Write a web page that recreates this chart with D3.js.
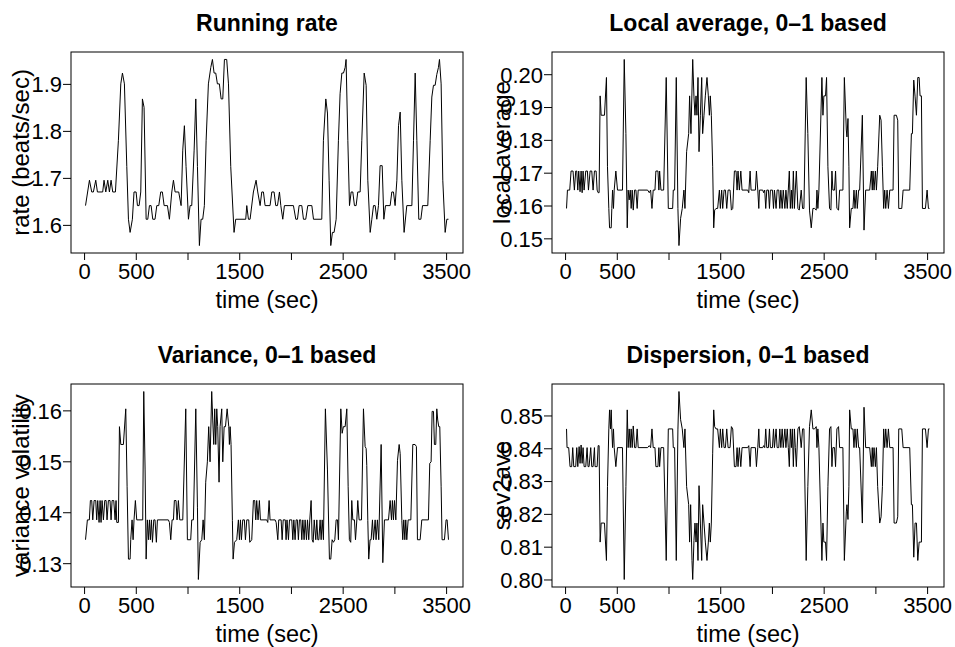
<!DOCTYPE html>
<html>
<head>
<meta charset="utf-8">
<script src="https://cdn.jsdelivr.net/npm/d3@7"></script>
<style>
  body { margin: 0; background: #fff; }
  text { font-family: "Liberation Sans", Arial, Helvetica, sans-serif; fill: #000; }
</style>
</head>
<body>
<div class="canva"></div>
<script>
// [time (sec), value]
const runningRate = [[14,1.641],[52,1.695],[74,1.670],[90,1.670],[113,1.695],[129,1.670],[180,1.670],[193,1.695],[210,1.670],[229,1.695],[245,1.670],[261,1.695],[277,1.670],[303,1.670],[332,1.780],[355,1.900],[371,1.923],[390,1.900],[413,1.724],[429,1.612],[445,1.584],[467,1.612],[483,1.670],[503,1.670],[516,1.641],[532,1.641],[548,1.670],[564,1.868],[580,1.850],[600,1.612],[616,1.612],[632,1.641],[648,1.641],[664,1.612],[686,1.612],[703,1.641],[722,1.641],[741,1.670],[757,1.670],[774,1.641],[806,1.641],[825,1.612],[848,1.670],[864,1.695],[880,1.670],[915,1.670],[938,1.641],[954,1.759],[970,1.811],[986,1.724],[1009,1.612],[1025,1.641],[1041,1.641],[1064,1.759],[1080,1.868],[1096,1.724],[1115,1.556],[1131,1.612],[1147,1.612],[1163,1.641],[1180,1.780],[1202,1.900],[1225,1.935],[1241,1.952],[1257,1.923],[1273,1.923],[1289,1.900],[1308,1.900],[1325,1.868],[1341,1.868],[1357,1.952],[1379,1.952],[1396,1.900],[1418,1.724],[1450,1.584],[1466,1.612],[1563,1.612],[1573,1.641],[1589,1.612],[1605,1.612],[1637,1.670],[1663,1.695],[1679,1.670],[1702,1.641],[1718,1.670],[1734,1.670],[1750,1.641],[1798,1.641],[1815,1.670],[1837,1.670],[1853,1.641],[1870,1.641],[1889,1.670],[1902,1.641],[1921,1.612],[1937,1.641],[2024,1.641],[2047,1.612],[2063,1.612],[2079,1.641],[2105,1.641],[2121,1.612],[2143,1.612],[2163,1.641],[2202,1.641],[2218,1.612],[2298,1.612],[2314,1.780],[2337,1.868],[2353,1.838],[2369,1.695],[2385,1.556],[2401,1.584],[2417,1.584],[2437,1.612],[2459,1.780],[2475,1.879],[2492,1.923],[2508,1.923],[2524,1.935],[2533,1.952],[2550,1.780],[2566,1.641],[2582,1.670],[2598,1.670],[2614,1.641],[2630,1.641],[2646,1.670],[2669,1.670],[2685,1.780],[2708,1.923],[2727,1.897],[2743,1.695],[2766,1.584],[2782,1.612],[2798,1.641],[2814,1.641],[2830,1.612],[2846,1.641],[2862,1.726],[2882,1.726],[2898,1.612],[2914,1.641],[2959,1.641],[2975,1.670],[2991,1.670],[3007,1.641],[3024,1.695],[3040,1.811],[3056,1.840],[3072,1.695],[3094,1.584],[3120,1.641],[3169,1.641],[3185,1.780],[3201,1.923],[3217,1.780],[3236,1.612],[3256,1.612],[3272,1.641],[3323,1.641],[3346,1.780],[3362,1.872],[3378,1.897],[3394,1.897],[3410,1.920],[3426,1.935],[3436,1.952],[3452,1.900],[3468,1.695],[3491,1.584],[3507,1.612],[3523,1.612]];

const localAverage = [[14,0.1591],[23,0.1647],[45,0.1647],[58,0.1705],[77,0.1705],[90,0.1647],[103,0.1705],[113,0.1705],[123,0.1647],[132,0.1705],[145,0.1642],[155,0.1705],[165,0.1639],[174,0.1705],[184,0.1647],[200,0.1705],[216,0.1705],[226,0.1647],[242,0.1705],[258,0.1705],[271,0.1647],[284,0.1705],[300,0.1705],[310,0.1647],[320,0.1639],[329,0.1639],[339,0.1934],[349,0.1875],[381,0.1875],[400,0.1990],[410,0.1718],[423,0.1591],[430,0.1532],[446,0.1532],[452,0.1591],[459,0.1647],[468,0.1591],[475,0.1647],[491,0.1705],[507,0.1647],[555,0.1647],[572,0.2045],[588,0.1819],[601,0.1532],[610,0.1647],[620,0.1617],[630,0.1647],[639,0.1591],[649,0.1647],[659,0.1586],[672,0.1647],[685,0.1647],[697,0.1591],[707,0.1647],[798,0.1647],[814,0.1639],[827,0.1647],[840,0.1591],[852,0.1647],[869,0.1647],[878,0.1705],[898,0.1705],[907,0.1647],[914,0.1705],[927,0.1647],[953,0.1647],[978,0.1990],[998,0.1591],[1040,0.1591],[1046,0.1647],[1059,0.1647],[1075,0.1990],[1091,0.1591],[1101,0.1478],[1117,0.1561],[1133,0.1591],[1149,0.1647],[1159,0.1591],[1175,0.1764],[1195,0.1819],[1204,0.1934],[1217,0.1819],[1234,0.2045],[1246,0.1931],[1256,0.1875],[1266,0.1934],[1275,0.1875],[1285,0.1990],[1295,0.1764],[1308,0.1875],[1321,0.1990],[1330,0.1819],[1343,0.1875],[1356,0.1934],[1372,0.1990],[1385,0.1934],[1395,0.1875],[1404,0.1934],[1414,0.1875],[1427,0.1718],[1437,0.1532],[1446,0.1586],[1459,0.1591],[1475,0.1591],[1492,0.1647],[1501,0.1591],[1514,0.1647],[1524,0.1591],[1537,0.1647],[1550,0.1647],[1563,0.1591],[1576,0.1647],[1595,0.1647],[1608,0.1586],[1621,0.1591],[1637,0.1705],[1653,0.1705],[1663,0.1647],[1672,0.1705],[1685,0.1647],[1699,0.1705],[1711,0.1647],[1766,0.1647],[1776,0.1639],[1789,0.1705],[1798,0.1647],[1840,0.1647],[1850,0.1705],[1863,0.1647],[1873,0.1591],[1879,0.1647],[1911,0.1647],[1920,0.1639],[1930,0.1647],[1940,0.1591],[1950,0.1647],[1966,0.1647],[1976,0.1591],[1985,0.1647],[2005,0.1647],[2015,0.1591],[2024,0.1647],[2040,0.1591],[2050,0.1647],[2066,0.1647],[2076,0.1591],[2086,0.1647],[2099,0.1591],[2109,0.1647],[2125,0.1591],[2135,0.1647],[2148,0.1591],[2158,0.1647],[2168,0.1705],[2178,0.1591],[2188,0.1647],[2197,0.1591],[2207,0.1705],[2217,0.1591],[2226,0.1647],[2236,0.1705],[2251,0.1591],[2264,0.1586],[2283,0.1647],[2296,0.1591],[2309,0.1591],[2331,0.1990],[2347,0.1819],[2363,0.1586],[2380,0.1532],[2396,0.1591],[2412,0.1591],[2428,0.1586],[2435,0.1647],[2444,0.1591],[2454,0.1647],[2483,0.1990],[2493,0.1875],[2502,0.1934],[2518,0.1934],[2528,0.1990],[2541,0.1718],[2557,0.1591],[2570,0.1586],[2580,0.1705],[2589,0.1647],[2605,0.1647],[2615,0.1705],[2628,0.1591],[2644,0.1586],[2654,0.1647],[2686,0.1647],[2700,0.1990],[2719,0.1830],[2725,0.1809],[2735,0.1865],[2744,0.1718],[2751,0.1532],[2767,0.1591],[2783,0.1591],[2793,0.1647],[2803,0.1591],[2816,0.1647],[2825,0.1591],[2838,0.1647],[2848,0.1647],[2874,0.1875],[2890,0.1525],[2906,0.1647],[2945,0.1647],[2961,0.1705],[2970,0.1647],[2977,0.1705],[2987,0.1647],[3000,0.1705],[3010,0.1647],[3022,0.1718],[3042,0.1875],[3055,0.1860],[3068,0.1718],[3080,0.1591],[3090,0.1647],[3100,0.1591],[3113,0.1647],[3126,0.1591],[3139,0.1647],[3171,0.1647],[3181,0.1875],[3203,0.1875],[3216,0.1860],[3226,0.1591],[3255,0.1591],[3268,0.1647],[3332,0.1647],[3348,0.1819],[3358,0.1819],[3371,0.1982],[3384,0.1931],[3397,0.1875],[3410,0.1990],[3423,0.1990],[3432,0.1934],[3445,0.1934],[3455,0.1591],[3484,0.1591],[3500,0.1647],[3513,0.1591],[3523,0.1591]];

const varianceVol = [[14,0.1346],[32,0.1385],[51,0.1385],[61,0.1423],[74,0.1423],[84,0.1385],[97,0.1423],[113,0.1423],[122,0.1385],[132,0.1423],[145,0.1380],[155,0.1423],[164,0.1380],[174,0.1423],[187,0.1385],[200,0.1423],[213,0.1423],[222,0.1385],[235,0.1423],[251,0.1423],[261,0.1385],[271,0.1423],[287,0.1423],[300,0.1385],[309,0.1423],[316,0.1380],[332,0.1380],[342,0.1568],[355,0.1533],[380,0.1533],[403,0.1603],[416,0.1450],[429,0.1308],[445,0.1308],[451,0.1346],[464,0.1385],[474,0.1346],[483,0.1385],[496,0.1423],[509,0.1385],[567,0.1385],[577,0.1637],[590,0.1483],[600,0.1308],[612,0.1385],[622,0.1346],[632,0.1385],[641,0.1346],[651,0.1385],[661,0.1341],[674,0.1385],[686,0.1385],[699,0.1341],[709,0.1385],[815,0.1385],[825,0.1380],[838,0.1346],[851,0.1385],[864,0.1385],[873,0.1423],[889,0.1423],[899,0.1385],[912,0.1423],[925,0.1385],[954,0.1385],[983,0.1603],[999,0.1346],[1031,0.1346],[1041,0.1385],[1057,0.1385],[1080,0.1603],[1096,0.1410],[1105,0.1268],[1122,0.1341],[1138,0.1346],[1151,0.1385],[1163,0.1346],[1176,0.1459],[1192,0.1499],[1205,0.1568],[1218,0.1499],[1234,0.1637],[1244,0.1581],[1254,0.1533],[1263,0.1603],[1273,0.1533],[1283,0.1603],[1292,0.1568],[1305,0.1459],[1315,0.1568],[1331,0.1603],[1341,0.1499],[1354,0.1568],[1367,0.1568],[1383,0.1603],[1399,0.1568],[1405,0.1533],[1412,0.1568],[1421,0.1533],[1434,0.1384],[1441,0.1308],[1454,0.1341],[1476,0.1346],[1492,0.1385],[1502,0.1346],[1512,0.1385],[1521,0.1346],[1534,0.1385],[1550,0.1385],[1560,0.1346],[1573,0.1385],[1592,0.1385],[1602,0.1341],[1621,0.1346],[1637,0.1423],[1650,0.1423],[1660,0.1385],[1669,0.1423],[1682,0.1385],[1695,0.1423],[1705,0.1385],[1766,0.1385],[1776,0.1380],[1789,0.1423],[1798,0.1385],[1847,0.1385],[1857,0.1380],[1873,0.1346],[1882,0.1385],[1905,0.1385],[1915,0.1346],[1925,0.1385],[1945,0.1385],[1953,0.1346],[1962,0.1385],[1976,0.1346],[1986,0.1385],[2008,0.1385],[2018,0.1346],[2028,0.1385],[2040,0.1346],[2050,0.1385],[2062,0.1385],[2072,0.1346],[2082,0.1385],[2095,0.1385],[2105,0.1346],[2115,0.1385],[2127,0.1346],[2137,0.1385],[2150,0.1346],[2160,0.1385],[2172,0.1346],[2182,0.1385],[2195,0.1423],[2205,0.1346],[2215,0.1341],[2225,0.1385],[2240,0.1346],[2250,0.1385],[2260,0.1346],[2270,0.1346],[2282,0.1385],[2292,0.1346],[2302,0.1385],[2314,0.1346],[2333,0.1603],[2353,0.1483],[2372,0.1308],[2385,0.1308],[2398,0.1346],[2411,0.1341],[2424,0.1346],[2437,0.1385],[2450,0.1385],[2459,0.1346],[2482,0.1603],[2495,0.1555],[2507,0.1568],[2524,0.1568],[2540,0.1603],[2553,0.1450],[2565,0.1346],[2578,0.1341],[2588,0.1423],[2598,0.1385],[2614,0.1385],[2624,0.1346],[2637,0.1385],[2646,0.1423],[2659,0.1385],[2682,0.1385],[2701,0.1603],[2717,0.1529],[2727,0.1525],[2733,0.1492],[2743,0.1384],[2752,0.1308],[2765,0.1346],[2775,0.1346],[2788,0.1385],[2798,0.1346],[2814,0.1385],[2823,0.1346],[2836,0.1385],[2849,0.1346],[2872,0.1533],[2888,0.1301],[2904,0.1385],[2943,0.1385],[2959,0.1423],[2972,0.1385],[2981,0.1423],[2991,0.1385],[3001,0.1423],[3014,0.1385],[3030,0.1502],[3046,0.1533],[3056,0.1515],[3072,0.1384],[3081,0.1346],[3091,0.1385],[3101,0.1346],[3110,0.1385],[3120,0.1346],[3133,0.1385],[3159,0.1385],[3178,0.1533],[3200,0.1533],[3213,0.1529],[3223,0.1346],[3249,0.1346],[3265,0.1385],[3329,0.1385],[3342,0.1496],[3355,0.1499],[3365,0.1598],[3378,0.1598],[3387,0.1533],[3400,0.1533],[3410,0.1603],[3419,0.1581],[3429,0.1568],[3439,0.1568],[3452,0.1450],[3461,0.1346],[3484,0.1346],[3500,0.1385],[3510,0.1385],[3523,0.1346]];

const dispersion = [[14,0.8459],[19,0.8402],[35,0.8402],[48,0.8344],[64,0.8344],[74,0.8402],[84,0.8344],[103,0.8344],[113,0.8402],[123,0.8344],[136,0.8405],[145,0.8354],[155,0.8410],[165,0.8354],[174,0.8402],[184,0.8344],[200,0.8344],[213,0.8402],[222,0.8344],[232,0.8344],[248,0.8402],[258,0.8344],[271,0.8344],[284,0.8402],[290,0.8344],[310,0.8344],[320,0.8408],[329,0.8408],[339,0.8114],[349,0.8172],[381,0.8172],[400,0.8058],[410,0.8283],[423,0.8459],[430,0.8517],[439,0.8459],[446,0.8517],[452,0.8459],[459,0.8402],[468,0.8459],[475,0.8402],[491,0.8344],[507,0.8402],[555,0.8402],[572,0.8000],[588,0.8283],[601,0.8517],[610,0.8402],[620,0.8459],[630,0.8402],[639,0.8459],[649,0.8402],[659,0.8468],[672,0.8402],[685,0.8402],[697,0.8459],[707,0.8402],[798,0.8402],[814,0.8408],[827,0.8402],[840,0.8459],[852,0.8402],[869,0.8402],[878,0.8344],[898,0.8344],[907,0.8402],[914,0.8344],[927,0.8402],[953,0.8402],[978,0.8058],[998,0.8459],[1040,0.8459],[1046,0.8402],[1059,0.8402],[1075,0.8058],[1091,0.8456],[1101,0.8573],[1117,0.8487],[1133,0.8459],[1149,0.8402],[1159,0.8459],[1175,0.8283],[1195,0.8228],[1204,0.8114],[1214,0.8228],[1227,0.8058],[1234,0.8000],[1246,0.8119],[1256,0.8172],[1266,0.8114],[1275,0.8172],[1285,0.8058],[1295,0.8286],[1308,0.8172],[1321,0.8058],[1330,0.8228],[1343,0.8172],[1356,0.8114],[1372,0.8058],[1385,0.8114],[1395,0.8172],[1404,0.8114],[1414,0.8172],[1427,0.8385],[1437,0.8517],[1446,0.8466],[1459,0.8459],[1475,0.8459],[1492,0.8402],[1501,0.8459],[1514,0.8402],[1524,0.8459],[1537,0.8402],[1550,0.8402],[1563,0.8459],[1576,0.8402],[1595,0.8402],[1608,0.8466],[1621,0.8459],[1637,0.8344],[1653,0.8344],[1663,0.8402],[1672,0.8344],[1685,0.8402],[1699,0.8344],[1711,0.8402],[1766,0.8402],[1776,0.8408],[1789,0.8344],[1798,0.8402],[1840,0.8402],[1850,0.8344],[1863,0.8402],[1873,0.8459],[1879,0.8402],[1911,0.8402],[1920,0.8408],[1930,0.8402],[1940,0.8459],[1950,0.8402],[1966,0.8402],[1976,0.8459],[1985,0.8402],[2005,0.8402],[2015,0.8459],[2024,0.8402],[2040,0.8459],[2050,0.8402],[2066,0.8402],[2076,0.8459],[2086,0.8402],[2099,0.8459],[2109,0.8402],[2125,0.8459],[2135,0.8402],[2148,0.8459],[2158,0.8402],[2168,0.8344],[2178,0.8459],[2188,0.8402],[2197,0.8459],[2207,0.8344],[2217,0.8459],[2226,0.8402],[2236,0.8344],[2251,0.8459],[2264,0.8466],[2283,0.8402],[2296,0.8459],[2309,0.8459],[2331,0.8058],[2347,0.8283],[2363,0.8466],[2380,0.8517],[2396,0.8459],[2412,0.8459],[2428,0.8466],[2435,0.8402],[2444,0.8459],[2454,0.8402],[2483,0.8058],[2493,0.8172],[2502,0.8114],[2518,0.8114],[2528,0.8058],[2541,0.8283],[2557,0.8459],[2570,0.8466],[2580,0.8344],[2589,0.8402],[2605,0.8402],[2615,0.8344],[2628,0.8459],[2644,0.8466],[2654,0.8402],[2686,0.8402],[2700,0.8058],[2719,0.8206],[2725,0.8228],[2735,0.8183],[2744,0.8283],[2751,0.8517],[2767,0.8459],[2783,0.8459],[2793,0.8402],[2803,0.8459],[2816,0.8402],[2825,0.8459],[2838,0.8402],[2848,0.8402],[2874,0.8172],[2890,0.8525],[2906,0.8402],[2945,0.8402],[2961,0.8344],[2970,0.8402],[2977,0.8344],[2987,0.8402],[3000,0.8344],[3010,0.8402],[3022,0.8283],[3042,0.8172],[3055,0.8191],[3068,0.8283],[3080,0.8459],[3090,0.8402],[3100,0.8459],[3113,0.8402],[3126,0.8459],[3139,0.8402],[3171,0.8402],[3181,0.8172],[3203,0.8172],[3216,0.8191],[3226,0.8459],[3255,0.8459],[3268,0.8402],[3332,0.8402],[3348,0.8228],[3358,0.8228],[3371,0.8068],[3384,0.8172],[3397,0.8172],[3410,0.8058],[3423,0.8114],[3432,0.8114],[3445,0.8114],[3455,0.8459],[3484,0.8459],[3500,0.8402],[3513,0.8459],[3523,0.8459]];

// tick values and labels
const timeTicks = [0, 500, 1000, 1500, 2000, 2500, 3000, 3500];
const timeLabels = [0, 500, 1500, 2500, 3500];   // R drops the ones that collide
const rateTicks = [1.6, 1.7, 1.8, 1.9];
const localTicks = [0.15, 0.16, 0.17, 0.18, 0.19, 0.20];
const varTicks = [0.13, 0.14, 0.15, 0.16];
const dispTicks = [0.80, 0.81, 0.82, 0.83, 0.84, 0.85];

const titles = ["Running rate", "Local average, 0\u20131 based", "Variance, 0\u20131 based", "Dispersion, 0\u20131 based"];
const yLabels = ["rate (beats/sec)", "local average", "variance volatility", "sev2ave"];

const canvas = d3.select(".canva");
const svg = canvas.append("svg")
            .attr("width", 955)
            .attr("height", 647);

const boxW = 392;
const panels = [
  {data: runningRate, ticks: rateTicks, fmt: ".1f", left: 71, top: 52, bottom: 253},
  {data: localAverage, ticks: localTicks, fmt: ".2f", left: 552, top: 52, bottom: 253},
  {data: varianceVol, ticks: varTicks, fmt: ".2f", left: 71, top: 384, bottom: 587},
  {data: dispersion, ticks: dispTicks, fmt: ".2f", left: 552, top: 384, bottom: 587}
];

// R style: pad the data range by 4% each side
function padded(vals) {
    const [lo, hi] = d3.extent(vals);
    const p = (hi - lo) * 0.04;
    return [lo - p, hi + p];
}

panels.forEach(function (p, i) {
    const g = svg.append("g");

    const x = d3.scaleLinear()
                .domain(padded(p.data.map(d => d[0])))
                .range([p.left, p.left + boxW]);
    const y = d3.scaleLinear()
                .domain(padded(p.data.map(d => d[1])))
                .range([p.bottom, p.top]);

    // x axis
    const xAxis = d3.axisBottom(x)
                    .tickValues(timeTicks)
                    .tickSize(7)
                    .tickPadding(3)
                    .tickFormat(d => timeLabels.includes(d) ? d : "");
    const gx = g.append("g")
                .attr("transform", `translate(0, ${p.bottom})`)
                .call(xAxis);
    gx.select(".domain").remove();

    // y axis
    const yAxis = d3.axisLeft(y)
                    .tickValues(p.ticks)
                    .tickSize(8)
                    .tickPadding(1)
                    .tickFormat(d3.format(p.fmt));
    const gy = g.append("g")
                .attr("transform", `translate(${p.left}, 0)`)
                .call(yAxis);
    gy.select(".domain").remove();
    gy.selectAll("text").attr("dy", "0.36em");

    g.selectAll(".tick line").attr("stroke", "#000");
    g.selectAll(".tick text")
     .attr("font-family", null)
     .style("font-size", "22px")
     .attr("fill", "#000");
    gx.attr("font-family", null).attr("font-size", null);
    gy.attr("font-family", null).attr("font-size", null);

    // the series
    g.append("path")
     .datum(p.data)
     .attr("fill", "none")
     .attr("stroke", "#000")
     .attr("stroke-width", 1)
     .attr("stroke-linejoin", "round")
     .attr("d", d3.line()
        .x(d => x(d[0]))
        .y(d => y(d[1])));

    // box
    g.append("rect")
     .attr("x", p.left)
     .attr("y", p.top)
     .attr("width", boxW)
     .attr("height", p.bottom - p.top)
     .attr("fill", "none")
     .attr("stroke", "#000")
     .attr("stroke-width", 1);

    const cx = p.left + boxW / 2;
    // title
    g.append("text")
     .attr("x", cx)
     .attr("y", p.top - 21)
     .attr("text-anchor", "middle")
     .style("font-size", "23px")
     .style("font-weight", "bold")
     .text(titles[i]);

    // x label
    g.append("text")
     .attr("x", cx)
     .attr("y", p.bottom + 55)
     .attr("text-anchor", "middle")
     .style("font-size", "23.5px")
     .text("time (sec)");

    // y label (overlaps the tick labels, as in the original)
    g.append("text")
     .attr("transform", `translate(${p.left - 42}, ${(p.top + p.bottom) / 2}) rotate(-90)`)
     .attr("text-anchor", "middle")
     .style("font-size", "24px")
     .text(yLabels[i]);
});
</script>
</body>
</html>
